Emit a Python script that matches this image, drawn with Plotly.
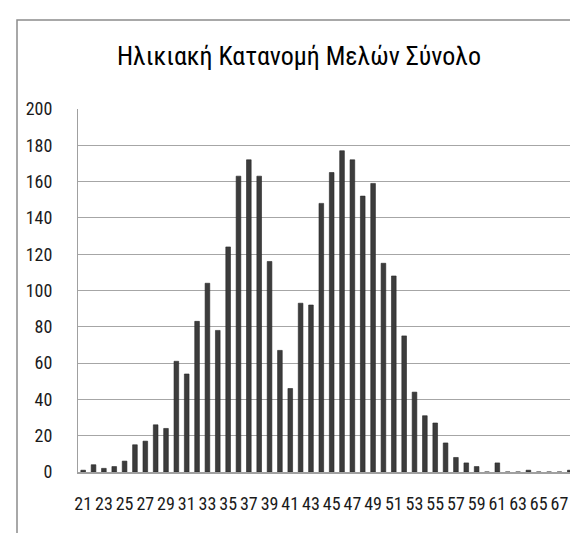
import plotly.graph_objects as go

ages = list(range(21, 69))
counts = [1, 4, 2, 3, 6, 15, 17, 26, 24, 61,
          54, 83, 104, 78, 124, 163, 172, 163, 116, 67,
          46, 93, 92, 148, 165, 177, 172, 152, 159, 115,
          108, 75, 44, 31, 27, 16, 8, 5, 3, 0,
          5, 0, 0, 1, 0, 0, 0, 1]
tick_ages = list(range(21, 68, 2))
y_ticks = list(range(0, 201, 20))
title_text = "Ηλικιακή Κατανομή Μελών Σύνολο"

FONT = "Roboto Condensed, DejaVu Sans Condensed, sans-serif"

fig = go.Figure()
fig.add_trace(go.Bar(
    x=[str(a) for a in ages], y=counts,
    marker=dict(color="#3c3c3c", line=dict(color="#262626", width=0.6)),
    width=0.45,
))

W, H = 578, 533
L, R, T, B = 70, 11, 101, 69
pw, ph = W - L - R, H - T - B

def px(x):
    return (x - L) / pw

def py(y):
    return (H - B - y) / ph

fig.update_layout(
    width=W, height=H,
    margin=dict(l=L, r=R, t=T, b=B),
    paper_bgcolor="white", plot_bgcolor="white",
    showlegend=False,
    bargap=0.55,
    title=dict(text=title_text, x=291 / W, xref="container", xanchor="center",
               y=1 - 48 / H, yref="container", yanchor="middle",
               font=dict(family=FONT, size=26, color="#000000")),
    font=dict(family=FONT, size=18, color="#1a1a1a"),
    xaxis=dict(type="category", categoryorder="array",
               categoryarray=[str(a) for a in ages],
               tickmode="array", tickvals=[str(a) for a in tick_ages],
               ticktext=[str(a) for a in tick_ages],
               ticks="", ticklabelstandoff=15,
               showgrid=False, showline=True, linecolor="#a0a0a0", linewidth=1.5,
               tickangle=0, tickfont=dict(family=FONT, size=18, color="#1a1a1a")),
    yaxis=dict(range=[0, 200], tickmode="array", tickvals=y_ticks,
               ticks="", ticklabelstandoff=21,
               showgrid=True, gridcolor="#a6a6a6", gridwidth=1.3,
               showline=True, linecolor="#a0a0a0", linewidth=1.2,
               zeroline=False,
               tickfont=dict(family=FONT, size=18, color="#1a1a1a")),
    shapes=[dict(type="path", xref="paper", yref="paper",
                 path=f"M {px(582)} {py(12)} L {px(9)} {py(12)} L {px(9)} {py(540)}",
                 line=dict(color="#8c8c8c", width=1.5))],
)

fig.write_html("out.html")
